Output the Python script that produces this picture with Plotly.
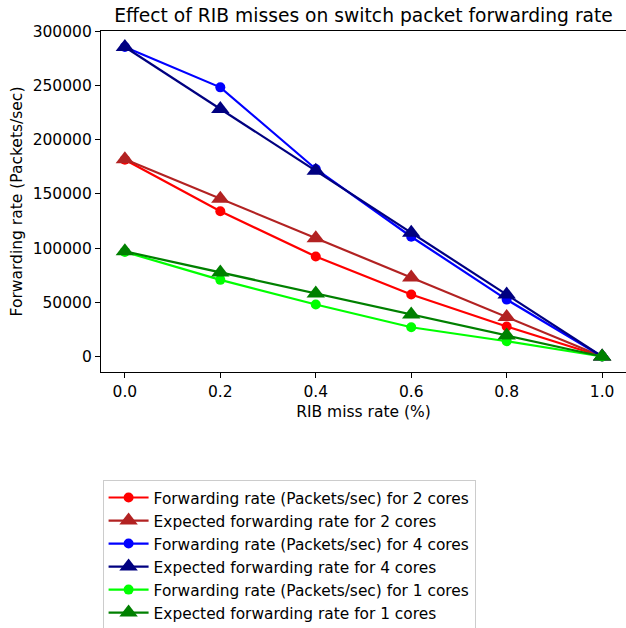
import plotly.graph_objects as go

miss_rate = [0.0, 0.2, 0.4, 0.6, 0.8, 1.0]

fwd_2 = [181500, 134000, 92200, 57200, 27700, 0]
exp_2 = [182000, 145600, 109200, 72800, 36400, 0]
fwd_4 = [285500, 248300, 173000, 110500, 52500, 0]
exp_4 = [285500, 228400, 171300, 114200, 57100, 0]
fwd_1 = [96500, 70700, 48000, 27000, 14100, 0]
exp_1 = [97000, 77600, 58200, 38800, 19400, 0]

series = [
    ("Forwarding rate (Packets/sec) for 2 cores", fwd_2, "#ff0000", "circle", 10),
    ("Expected forwarding rate for 2 cores", exp_2, "#b22222", "triangle-up", 16),
    ("Forwarding rate (Packets/sec) for 4 cores", fwd_4, "#0000ff", "circle", 10),
    ("Expected forwarding rate for 4 cores", exp_4, "#000080", "triangle-up", 16),
    ("Forwarding rate (Packets/sec) for 1 cores", fwd_1, "#00ff00", "circle", 10),
    ("Expected forwarding rate for 1 cores", exp_1, "#008000", "triangle-up", 16),
]

fig = go.Figure()
for name, ys, color, sym, size in series:
    fig.add_trace(go.Scatter(
        x=miss_rate, y=ys, name=name, mode="lines+markers",
        line=dict(color=color, width=2.2),
        marker=dict(symbol=sym, size=size, color=color, line=dict(width=0)),
    ))

font = "DejaVu Sans"
L, R, T, B = 101, 0, 31, 256
fig.update_layout(
    width=626, height=628,
    margin=dict(l=L, r=R, t=T, b=B, autoexpand=False),
    paper_bgcolor="white", plot_bgcolor="white",
    font=dict(family=font, size=15.5, color="black"),
    title=dict(text="Effect of RIB misses on switch packet forwarding rate",
               x=(L + (626 - L - R) / 2) / 626, xanchor="center", y=1 - 15 / 628, yanchor="middle",
               font=dict(size=18.7, family=font)),
    xaxis=dict(range=[-0.05, 1.05], tickvals=miss_rate,
               ticktext=["0.0", "0.2", "0.4", "0.6", "0.8", "1.0"],
               showline=True, linecolor="black", linewidth=1.2, mirror=True,
               ticks="outside", ticklen=5, tickcolor="black", showgrid=False, zeroline=False,
               automargin=False,
               title=dict(text="RIB miss rate (%)", standoff=6, font=dict(size=15.5))),
    yaxis=dict(range=[-14300, 300300], tickvals=[0, 50000, 100000, 150000, 200000, 250000, 300000],
               tickformat="d",
               showline=True, linecolor="black", linewidth=1.2, mirror=True,
               ticks="outside", ticklen=5, tickcolor="black", showgrid=False, zeroline=False,
               automargin=False,
               title=dict(text="Forwarding rate (Packets/sec)", standoff=6, font=dict(size=15.5))),
    legend=dict(x=0.003, y=(372 - 480) / (628 - T - B), xanchor="left", yanchor="top",
                bgcolor="white", bordercolor="#cccccc", borderwidth=1,
                font=dict(size=15.4, family=font), tracegroupgap=0, itemwidth=40),
    showlegend=True,
)

fig.write_html("out.html", config={"displayModeBar": False},
               post_script="document.body.style.margin='0';document.body.style.overflow='hidden';")
